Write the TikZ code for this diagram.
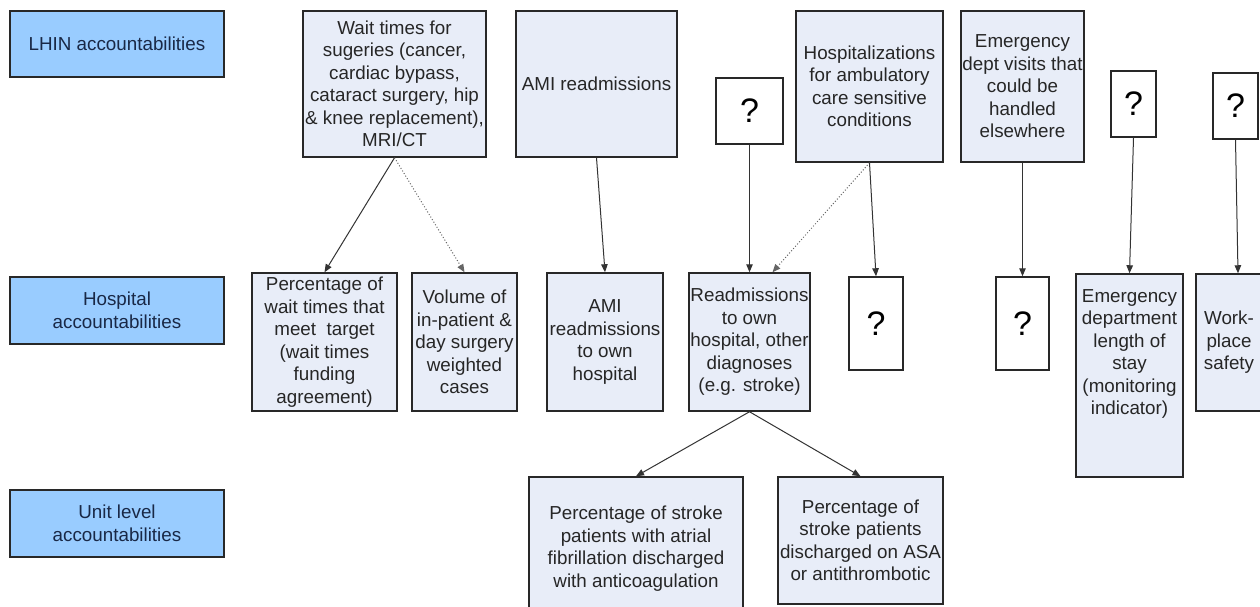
\documentclass[tikz,border=0pt]{standalone}
\usepackage{fontspec}
\setmainfont{Liberation Sans}
\usetikzlibrary{arrows.meta}

\definecolor{boxfill}{RGB}{232,237,248}
\definecolor{levelfill}{RGB}{153,204,255}
\definecolor{leveltext}{RGB}{25,40,70}
\definecolor{edgecolor}{RGB}{40,40,40}

\tikzset{
  measure/.style={draw=edgecolor, line width=1.5pt, fill=boxfill, align=center,
    inner sep=1pt, text=black!85, font=\fontsize{18.8}{22.5}\selectfont},
  level/.style={measure, fill=levelfill, text=leveltext},
  unknown/.style={draw=edgecolor, line width=1.5pt, fill=white, inner sep=0pt,
    font=\fontsize{34}{38}\selectfont},
  link/.style={draw=black!80, line width=1pt, -{Triangle[length=8pt,width=6.5pt]}},
  maybe/.style={link, draw=black!60, dotted}
}

\begin{document}
\begin{tikzpicture}[x=1pt, y=-1pt]
\useasboundingbox[fill=white] (0,0) rectangle (1260,607);
% levels
\node[level, minimum width=214pt, minimum height=66pt] (lhin) at (117,44) {LHIN accountabilities};
\node[level, minimum width=214pt, minimum height=67pt] (hosp) at (117,310.5) {Hospital\\accountabilities};
\node[level, minimum width=214pt, minimum height=67pt] (unit) at (117,523.5) {Unit level\\accountabilities};
% LHIN row
\node[measure, minimum width=183pt, minimum height=146pt] (waittimes) at (394.5,84)
  {Wait times for\\sugeries (cancer,\\cardiac bypass,\\cataract surgery, hip\\\& knee replacement),\\MRI/CT};
\node[measure, minimum width=161pt, minimum height=146pt] (ami) at (596.5,84) {AMI readmissions};
\node[unknown, minimum width=67pt, minimum height=66pt] (qreadm) at (749.5,111) {?};
\node[measure, minimum width=147pt, minimum height=151pt] (ambcare) at (869.5,86.5)
  {Hospitalizations\\for ambulatory\\care sensitive\\conditions};
\node[measure, minimum width=123pt, minimum height=151pt] (edvisits) at (1022.5,86.5)
  {Emergency\\dept visits that\\could be\\handled\\elsewhere};
\node[unknown, minimum width=45pt, minimum height=66pt] (qedlos) at (1133.5,104) {?};
\node[unknown, minimum width=45pt, minimum height=66pt] (qwork) at (1235.5,106) {?};
% hospital row
\node[measure, minimum width=145pt, minimum height=138pt] (pctwait) at (324.5,342)
  {Percentage of\\wait times that\\meet~ target\\(wait times\\funding\\agreement)};
\node[measure, minimum width=105pt, minimum height=138pt] (volume) at (464.5,342)
  {Volume of\\in-patient \&\\day surgery\\weighted\\cases};
\node[measure, minimum width=116pt, minimum height=138pt] (amiown) at (605,342)
  {AMI\\readmissions\\to own\\hospital};
\node[measure, minimum width=121pt, minimum height=138pt] (readm) at (749.5,342)
  {Readmissions\\to own\\hospital, other\\diagnoses\\(e.g. stroke)};
\node[unknown, minimum width=54pt, minimum height=93pt] (qamb) at (876,323.5) {?};
\node[unknown, minimum width=53pt, minimum height=93pt] (qed) at (1022.5,323.5) {?};
\node[measure, minimum width=107pt, minimum height=203pt] (edlos) at (1129.5,375.5)
  {Emergency\\department\\length of\\stay\\(monitoring\\indicator)\\[24pt]\mbox{}};
\node[measure, minimum width=66pt, minimum height=137pt] (work) at (1229,342.5)
  {Work-\\place\\safety};
% unit row
\node[measure, minimum width=214pt, minimum height=143pt] (afib) at (636,548.5)
  {Percentage of stroke\\patients with atrial\\fibrillation discharged\\with anticoagulation};
\node[measure, minimum width=165pt, minimum height=127pt] (asa) at (860.5,540.5)
  {Percentage of\\stroke patients\\discharged on ASA\\or antithrombotic};
% connectors
\draw[link] (waittimes.south) -- (pctwait.north);
\draw[maybe] (waittimes.south) -- (volume.north);
\draw[link] (ami.south) -- (amiown.north);
\draw[link] (qreadm.south) -- (readm.north);
\draw[maybe] (ambcare.south) -- ([xshift=23pt]readm.north);
\draw[link] (ambcare.south) -- (qamb.north);
\draw[link] (edvisits.south) -- (qed.north);
\draw[link] (qedlos.south) -- (edlos.north);
\draw[link] (qwork.south) -- ([xshift=9pt]work.north);
\draw[link] (readm.south) -- (afib.north);
\draw[link] (readm.south) -- (asa.north);
\end{tikzpicture}
\end{document}
